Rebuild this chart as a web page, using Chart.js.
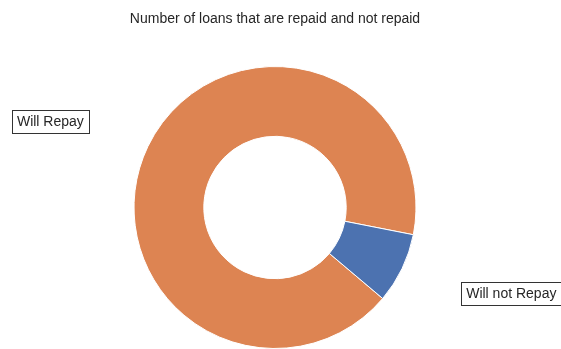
<!DOCTYPE html>
<html>
<head>
<meta charset="utf-8">
<script src="https://cdn.jsdelivr.net/npm/chart.js@4/dist/chart.umd.min.js"></script>
<style>
  html, body { margin: 0; padding: 0; background: #fff; }
  canvas { display: block; }
</style>
</head>
<body>
<canvas id="loans-chart" width="561" height="349"></canvas>
<script>
// loan counts by TARGET
const labels = ["Will Repay", "Will not Repay"];
const counts = [282686, 24825];
const colors = ["#DD8452", "#4C72B0"];
const title = "Number of loans that are repaid and not repaid";

// title and boxed slice labels, placed out from each slice's middle angle
const pieLabels = {
  id: 'pieLabels',
  afterDraw(chart) {
    const ctx = chart.ctx;
    ctx.save();
    ctx.fillStyle = '#262626';
    ctx.font = '14px "Liberation Sans", Arial, sans-serif';
    ctx.textAlign = 'center';
    ctx.textBaseline = 'middle';
    ctx.fillText(title, 275, 19.5);

    ctx.textAlign = 'left';
    const meta = chart.getDatasetMeta(0);
    meta.data.forEach((arc, i) => {
      const p = arc.getProps(['x', 'y', 'startAngle', 'endAngle', 'outerRadius'], true);
      const mid = (p.startAngle + p.endAngle) / 2;
      const ax = p.x + Math.cos(mid) * p.outerRadius * 1.465;
      const ay = p.y + Math.sin(mid) * p.outerRadius * 1.41;
      const w = ctx.measureText(labels[i]).width + 10;
      const h = 23;
      const bx = Math.cos(mid) >= 0 ? ax : ax - w;
      const by = ay - h / 2;
      ctx.fillStyle = '#fff';
      ctx.fillRect(bx, by, w, h);
      ctx.strokeStyle = '#333';
      ctx.lineWidth = 1;
      ctx.strokeRect(Math.round(bx) + 0.5, Math.round(by) + 0.5, Math.round(w), h);
      ctx.fillStyle = '#262626';
      ctx.fillText(labels[i], bx + 5, ay + 1);
    });
    ctx.restore();
  }
};

new Chart(document.getElementById("loans-chart"), {
  type: 'doughnut',
  data: {
    labels: labels,
    datasets: [{
      data: counts,
      backgroundColor: colors,
      borderColor: '#fff',
      borderWidth: 1
    }]
  },
  options: {
    responsive: false,
    animation: false,
    rotation: 130.2,
    cutout: '50.5%',
    layout: { padding: { left: 133, top: 66, right: 144, bottom: -2 } },
    plugins: {
      legend: { display: false },
      tooltip: { enabled: false },
      title: { display: false }
    }
  },
  plugins: [pieLabels]
});
</script>
</body>
</html>
